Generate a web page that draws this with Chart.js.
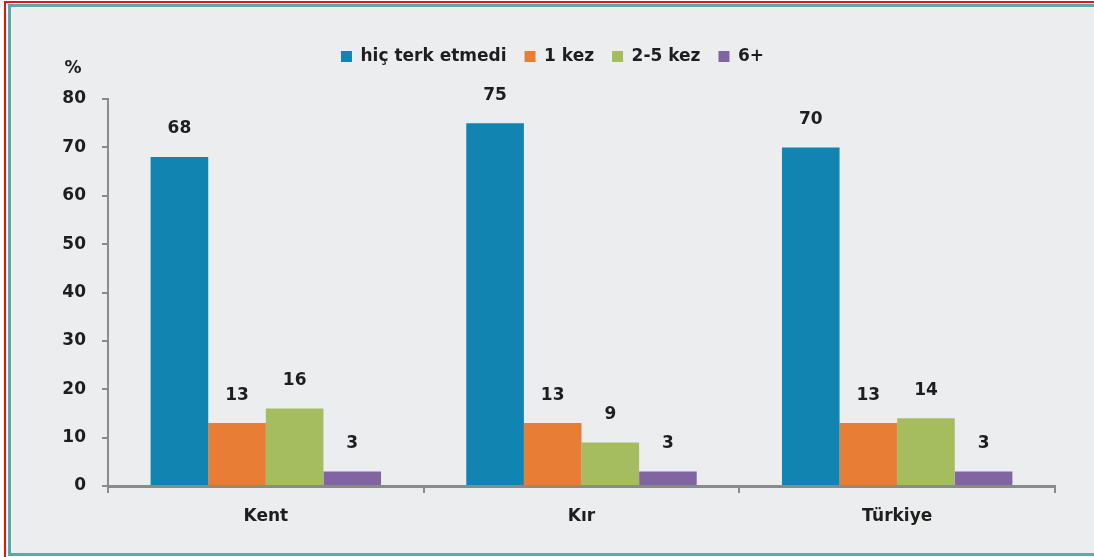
<!DOCTYPE html>
<html>
<head>
<meta charset="utf-8">
<script src="https://cdn.jsdelivr.net/npm/chart.js@4"></script>
<style>
  body { margin: 0; background: #fff; }
  #outer { position: absolute; left: 4px; top: 1px; width: 1100px; height: 556px; border-top: 2px solid #f01010; border-left: 2px solid #f01010; box-sizing: border-box; }
  #frame { position: absolute; left: 8px; top: 4px; width: 1100px; height: 552px; border: 3px solid #5aa8a8; border-right: none; box-sizing: border-box; background: #ecedef; }
  #wrap { position: absolute; left: 0; top: 0; width: 1094px; height: 557px; }
</style>
</head>
<body>
<div id="outer"></div>
<div id="frame"></div>
<div id="wrap"><canvas id="chart"></canvas></div>
<script>
// data
const regions = ['Kent', 'Kır', 'Türkiye'];
const neverLeft = [68, 75, 70];
const once = [13, 13, 13];
const twoToFive = [16, 9, 14];
const sixPlus = [3, 3, 3];
const yTicks = [0, 10, 20, 30, 40, 50, 60, 70, 80];

const textColor = '#1e1e1e';
const axisColor = '#8a8a8a';
const fontFamily = '"DejaVu Sans", sans-serif';
const font = { size: 17, family: fontFamily, weight: 'bold' };

// draws value labels above bars and the "%" unit,
// and leaves some room under the legend
const valueLabels = {
    id: 'valueLabels',
    afterInit(chart) {
        const legend = chart.legend;
        const fit = legend.fit.bind(legend);
        legend.fit = function() {
            fit();
            this.height += 24;
        };
    },
    afterDatasetsDraw(chart) {
        const ctx = chart.ctx;
        ctx.save();
        ctx.fillStyle = textColor;
        ctx.font = 'bold 17px ' + fontFamily;
        ctx.textAlign = 'center';
        ctx.textBaseline = 'middle';
        chart.data.datasets.forEach((ds, i) => {
            const meta = chart.getDatasetMeta(i);
            meta.data.forEach((bar, j) => {
                ctx.fillText(ds.data[j], bar.x, bar.y - 28);
            });
        });
        const area = chart.chartArea;
        ctx.fillText('%', area.left - 35, area.top - 30);
        ctx.restore();
    }
};

new Chart(document.getElementById('chart'), {
    type: 'bar',
    data: {
        labels: regions,
        datasets: [
            { label: 'hiç terk etmedi', data: neverLeft, backgroundColor: '#1184b1' },
            { label: '1 kez', data: once, backgroundColor: '#e87d35' },
            { label: '2-5 kez', data: twoToFive, backgroundColor: '#a6bd5f' },
            { label: '6+', data: sixPlus, backgroundColor: '#8065a2' }
        ]
    },
    options: {
        responsive: true,
        maintainAspectRatio: false,
        animation: false,
        layout: { padding: { left: 50, right: 39, top: 30, bottom: 21 } },
        datasets: { bar: { categoryPercentage: 0.73, barPercentage: 1 } },
        plugins: {
            legend: {
                position: 'top',
                labels: {
                    color: textColor,
                    font: font,
                    boxWidth: 11,
                    boxHeight: 11,
                    padding: 18
                }
            },
            tooltip: { enabled: false }
        },
        scales: {
            x: {
                grid: { display: true, drawOnChartArea: false, drawTicks: true, tickLength: 7, color: axisColor, lineWidth: 2, offset: true },
                border: { display: true, color: axisColor, width: 3 },
                ticks: { color: textColor, font: font, padding: 13 },
                afterFit(scale) { scale.height = 50; }
            },
            y: {
                min: 0,
                max: 80,
                afterBuildTicks(scale) { scale.ticks = yTicks.map(v => ({ value: v })); },
                grid: { display: true, drawOnChartArea: false, drawTicks: true, tickLength: 6, color: axisColor, lineWidth: 2 },
                border: { display: true, color: axisColor, width: 2 },
                ticks: { color: textColor, font: font, padding: 16 },
                afterFit(scale) { scale.width = 58; }
            }
        }
    },
    plugins: [valueLabels]
});
</script>
</body>
</html>
